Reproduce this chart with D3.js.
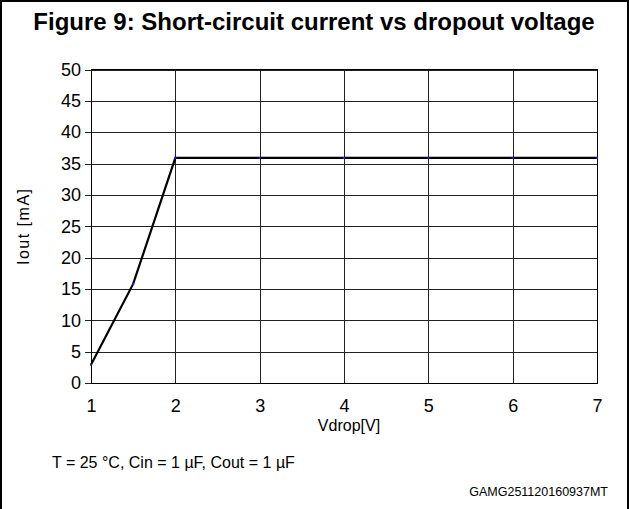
<!DOCTYPE html>
<html>
<head>
<meta charset="utf-8">
<script src="https://cdn.jsdelivr.net/npm/d3@7"></script>
<style>
  body { margin: 0; background: #fff; }
  svg { display: block; font-family: "Liberation Sans", Arial, sans-serif; }
</style>
</head>
<body>
<script>
// chart data
const vdrop = [1, 1.5, 2, 3, 4, 5, 6, 7];
const iout = [2.9, 15.8, 35.9, 35.9, 35.9, 35.9, 35.9, 35.9];
const xTicks = [1, 2, 3, 4, 5, 6, 7];
const yTicks = [0, 5, 10, 15, 20, 25, 30, 35, 40, 45, 50];

const titleText = "Figure 9: Short-circuit current vs dropout voltage";
const noteText = "T = 25 °C, Cin = 1 µF, Cout = 1 µF";
const codeText = "GAMG251120160937MT";

const width = 629, height = 509;
const plot = {left: 91, right: 597, top: 69.5, bottom: 383};

const svg = d3.select("body").append("svg").attr("width", width).attr("height", height);

// outer frame (bottom edge is cut off in the original)
svg.append("rect")
  .attr("x", 1).attr("y", 1)
  .attr("width", width - 2).attr("height", height + 10)
  .attr("fill", "none").attr("stroke", "#000").attr("stroke-width", 2);

const x = d3.scaleLinear().domain([1, 7]).range([plot.left, plot.right]);
const y = d3.scaleLinear().domain([0, 50]).range([plot.bottom, plot.top]);

// horizontal grid + left ticks
const yAxis = d3.axisLeft(y).tickValues(yTicks).tickSize(-(plot.right - plot.left)).tickSizeOuter(0).tickPadding(10);
const gy = svg.append("g").attr("transform", "translate(" + plot.left + ",0)").call(yAxis);
gy.select(".domain").remove();
gy.selectAll(".tick line").attr("x1", -6).attr("stroke", "#222").attr("shape-rendering", "crispEdges");
gy.selectAll(".tick text").attr("font-size", 18).attr("font-family", "Liberation Sans, Arial, sans-serif").attr("fill", "#000");

// vertical grid
const xAxis = d3.axisBottom(x).tickValues(xTicks).tickFormat(d3.format("d")).tickSize(-(plot.bottom - plot.top)).tickSizeOuter(0).tickPadding(16);
const gx = svg.append("g").attr("transform", "translate(0," + plot.bottom + ")").call(xAxis);
gx.select(".domain").remove();
gx.selectAll(".tick line").attr("stroke", "#222").attr("shape-rendering", "crispEdges");
gx.selectAll(".tick text").attr("font-size", 18).attr("font-family", "Liberation Sans, Arial, sans-serif").attr("fill", "#000");

// plot box
svg.append("rect")
  .attr("x", plot.left).attr("y", plot.top)
  .attr("width", plot.right - plot.left).attr("height", plot.bottom - plot.top)
  .attr("fill", "none").attr("stroke", "#000").attr("shape-rendering", "crispEdges");

// data line
const line = d3.line().x((d, i) => x(vdrop[i])).y(d => y(d));
svg.append("path")
  .datum(iout)
  .attr("d", line)
  .attr("fill", "none")
  .attr("stroke", "#000")
  .attr("stroke-width", 2.2);

// tiny blue markers at each point
svg.selectAll("rect.pt")
  .data(iout)
  .enter()
  .append("rect")
  .attr("class", "pt")
  .attr("x", (d, i) => x(vdrop[i]) - 1)
  .attr("y", d => y(d) - 1)
  .attr("width", 2).attr("height", 2)
  .attr("fill", "#1a1aff");

// title
svg.append("text")
  .attr("x", 314).attr("y", 30)
  .attr("text-anchor", "middle")
  .attr("font-size", 24).attr("font-weight", "bold")
  .text(titleText);

// axis titles
svg.append("text")
  .attr("transform", "translate(29," + ((plot.top + plot.bottom) / 2) + ") rotate(-90)")
  .attr("text-anchor", "middle")
  .attr("font-size", 16)
  .attr("letter-spacing", 1.5)
  .text("Iout [mA]");

svg.append("text")
  .attr("x", x(4) + 5).attr("y", 431)
  .attr("text-anchor", "middle")
  .attr("font-size", 16)
  .text("Vdrop[V]");

// footnote and document code
svg.append("text")
  .attr("x", 52).attr("y", 468)
  .attr("font-size", 16)
  .text(noteText);

svg.append("text")
  .attr("x", 608).attr("y", 496)
  .attr("text-anchor", "end")
  .attr("font-size", 12.5)
  .text(codeText);
</script>
</body>
</html>
